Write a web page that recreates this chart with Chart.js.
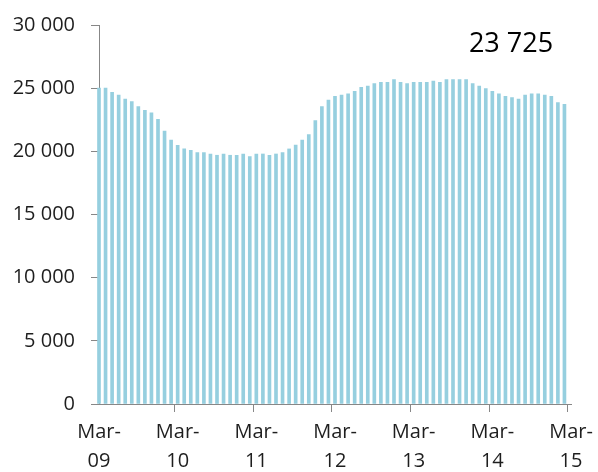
<!DOCTYPE html>
<html>
<head>
<meta charset="utf-8">
<style>
  html, body { margin: 0; padding: 0; background: #ffffff; }
  #wrap { width: 598px; height: 472px; position: relative; }
  canvas { display: block; }
</style>
<script src="https://cdn.jsdelivr.net/npm/chart.js@4.4.1/dist/chart.umd.min.js"></script>
</head>
<body>
<div id="wrap"><canvas id="c" width="598" height="472"></canvas></div>
<script>
// Monthly categories Mar-09 .. Mar-15 (the last one is an axis end, no bar)
const months = ['Jan','Feb','Mar','Apr','May','Jun','Jul','Aug','Sep','Oct','Nov','Dec'];
const categories = [];
for (let y = 2009, m = 2; categories.length < 73; m++) {
  if (m === 12) { m = 0; y++; }
  categories.push(months[m] + '-' + String(y).slice(2));
}

// Values (Mar-09 .. Feb-15)
const values = [
  25000, 25000, 24670, 24460, 24140, 23930, 23540, 23250, 23040, 22540, 21610, 20900,
  20480, 20190, 20080, 19900, 19900, 19790, 19690, 19790, 19690, 19690, 19790, 19580,
  19790, 19790, 19690, 19790, 19900, 20190, 20500, 20900, 21320, 22430, 23540, 24060,
  24350, 24460, 24560, 24750, 25070, 25170, 25360, 25460, 25460, 25670, 25460, 25360,
  25460, 25460, 25460, 25570, 25460, 25670, 25670, 25670, 25670, 25360, 25170, 24960,
  24750, 24560, 24350, 24250, 24140, 24460, 24560, 24560, 24460, 24350, 23850, 23725,
  null
];

const yTicks = [0, 5000, 10000, 15000, 20000, 25000, 30000];
const latestLabel = '23 725';

const FONT = "'Open Sans', sans-serif";
const TEXT = '#1e1e1e';
const AXIS = '#878787';

const annotationPlugin = {
  id: 'latestValue',
  afterDraw(chart) {
    const ctx = chart.ctx;
    ctx.save();
    ctx.font = "27px 'Open Sans', sans-serif";
    ctx.fillStyle = '#000000';
    ctx.textAlign = 'center';
    ctx.textBaseline = 'alphabetic';
    ctx.fillText(latestLabel, 511, 52);
    ctx.restore();
  }
};

new Chart(document.getElementById('c'), {
  type: 'bar',
  data: {
    labels: categories,
    datasets: [{
      data: values,
      backgroundColor: '#96cfdf',
      borderWidth: 0,
      barThickness: 3,
      clip: false
    }]
  },
  plugins: [annotationPlugin],
  options: {
    responsive: false,
    animation: false,
    layout: { padding: { top: 25, right: 27, left: 0, bottom: 0 } },
    plugins: { legend: { display: false }, tooltip: { enabled: false } },
    scales: {
      x: {
        offset: false,
        z: 1,
        grid: {
          drawOnChartArea: false,
          drawTicks: true,
          tickLength: 8,
          color: (c) => (c.index % 12 === 0 ? AXIS : 'rgba(0,0,0,0)')
        },
        border: { display: true, color: AXIS, width: 1 },
        ticks: {
          autoSkip: false,
          maxRotation: 0,
          minRotation: 0,
          padding: 5,
          color: TEXT,
          font: { family: FONT, size: 20, lineHeight: 1.48 },
          callback: (v, i) => (i % 12 === 0 ? ['Mar-', categories[i].slice(4)] : '')
        },
        afterFit: (s) => { s.height = 68; s.paddingLeft = 0; s.paddingRight = 0; }
      },
      y: {
        min: 0,
        max: 30000,
        z: 1,
        afterBuildTicks: (s) => { s.ticks = yTicks.map(v => ({ value: v })); },
        grid: {
          drawOnChartArea: false,
          drawTicks: true,
          tickLength: 8,
          color: AXIS
        },
        border: { display: true, color: AXIS, width: 1 },
        ticks: {
          padding: 16,
          color: TEXT,
          font: { family: FONT, size: 20 },
          callback: (v) => (v === 0 ? '0' : (v / 1000) + ' 000')
        },
        afterFit: (s) => { s.width = 99; s.paddingTop = 0; s.paddingBottom = 0; }
      }
    }
  }
});
</script>
</body>
</html>
